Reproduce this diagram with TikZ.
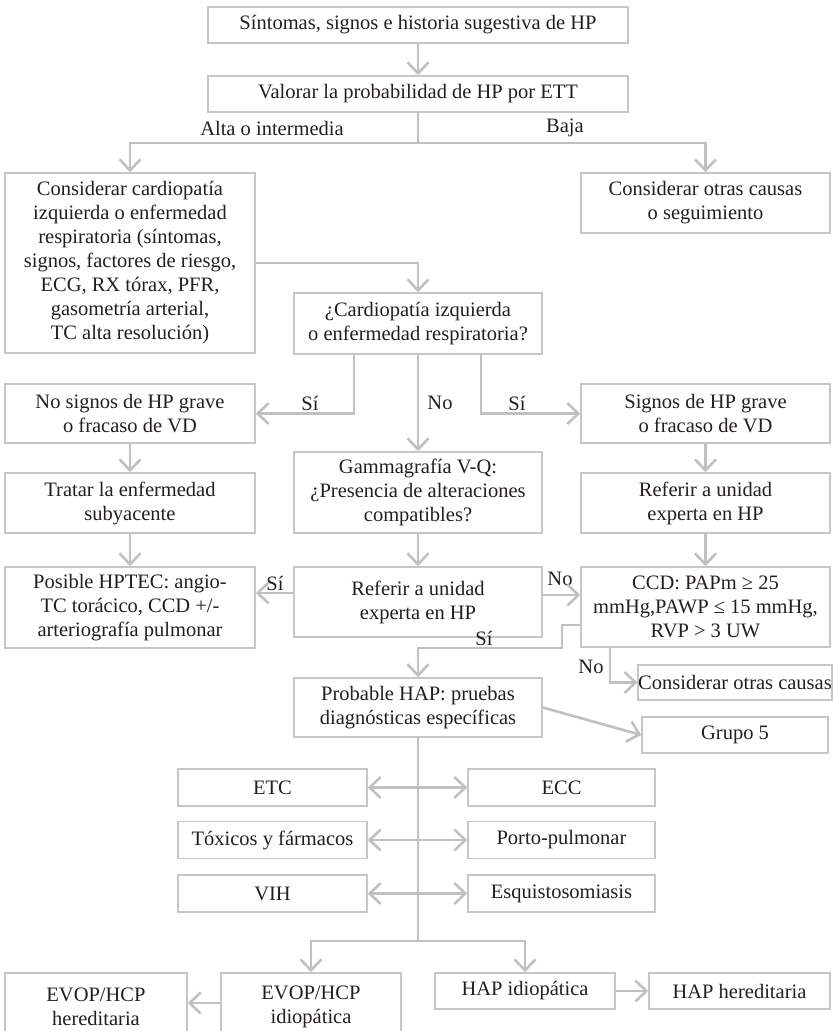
\documentclass[tikz,border=0pt]{standalone}
\usepackage{fontspec}
\setmainfont{Liberation Serif}
\usetikzlibrary{arrows.meta,calc}
\definecolor{boxgray}{RGB}{198,198,198}
\definecolor{linegray}{RGB}{192,192,192}
\definecolor{inkgray}{RGB}{35,31,32}

\begin{document}
\begin{tikzpicture}[x=1pt, y=-1pt,
  every node/.style={text=inkgray, font=\fontsize{20.5}{24}\selectfont},
  box/.style={draw=boxgray, line width=1.6pt, align=center, inner sep=0pt},
  tag/.style={inner sep=0pt},
  plain/.style={draw=linegray, line width=2.6pt},
  link/.style={plain, -{Straight Barb[length=11pt,width=21pt]}},
  dlink/.style={plain, {Straight Barb[length=11pt,width=21pt]}-{Straight Barb[length=11pt,width=21pt]}}
]
% Page frame
\useasboundingbox (0,0) rectangle (834,1031);
\clip (0,0) rectangle (834,1031);

% First steps
\node[box, minimum width=420pt, minimum height=36pt] (sintomas) at (418,25) {Síntomas, signos e historia sugestiva de HP};
\node[box, minimum width=420pt, minimum height=36pt] (valorar) at (418,94) {Valorar la probabilidad de HP por ETT};
\node[tag] (alta) at (272,128) {Alta o intermedia};
\node[tag] (baja) at (565,128) {Baja};

\node[box, minimum width=250pt, minimum height=180pt] (cardio) at (130,263) {Considerar cardiopatía\\izquierda o enfermedad\\respiratoria (síntomas,\\signos, factores de riesgo,\\ECG, RX tórax, PFR,\\gasometría arterial,\\TC alta resolución)};
\node[box, minimum width=249pt, minimum height=60pt] (otras) at (705.5,203) {Considerar otras causas\\o seguimiento};
\node[box, minimum width=248pt, minimum height=61pt] (pregunta) at (418,323.5) {¿Cardiopatía izquierda\\o enfermedad respiratoria?};

% Three columns
\node[box, minimum width=250pt, minimum height=59pt] (nosignos) at (130,413.5) {No signos de HP grave\\o fracaso de VD};
\node[box, minimum width=249pt, minimum height=59pt] (signos) at (705.5,413.5) {Signos de HP grave\\o fracaso de VD};
\node[box, minimum width=250pt, minimum height=60pt] (tratar) at (130,503) {Tratar la enfermedad\\subyacente};
\node[box, minimum width=248pt, minimum height=81pt] (gamma) at (418,492.5) {Gammagrafía V-Q:\\¿Presencia de alteraciones\\compatibles?};
\node[box, minimum width=249pt, minimum height=60pt] (refder) at (705.5,503) {Referir a unidad\\experta en HP};
\node[box, minimum width=250pt, minimum height=81pt] (hptec) at (130,607.5) {Posible HPTEC: angio-\\TC torácico, CCD +/-\\arteriografía pulmonar};
\node[box, minimum width=248pt, minimum height=70pt] (refmid) at (418,602) {Referir a unidad\\experta en HP};
\node[box, minimum width=249pt, minimum height=80pt] (ccd) at (705.5,607) {CCD: PAPm ≥ 25\\mmHg,PAWP ≤ 15 mmHg,\\RVP > 3 UW};
\node[tag] (si1) at (310,403) {Sí};
\node[tag] (no1) at (440,403) {No};
\node[tag] (si2) at (517,403) {Sí};
\node[tag] (si3) at (275,583) {Sí};
\node[tag] (no2) at (560,579) {No};
\node[tag] (si4) at (484,638) {Sí};
\node[tag] (no3) at (591,667) {No};

% Lower part
\node[box, minimum width=186pt, minimum height=35pt] (otras2) at (735,682.5) {Considerar otras causas};
\node[box, minimum width=248pt, minimum height=59pt] (prob) at (418,707.5) {Probable HAP: pruebas\\diagnósticas específicas};
\node[box, minimum width=186pt, minimum height=36pt] (grupo) at (735,735) {Grupo 5};
\foreach \y/\ln/\lt/\rn/\rt in {787.5/etc/ETC/ecc/ECC, 840/toxicos/Tóxicos y fármacos/porto/Porto-pulmonar, 893.5/vih/VIH/esquisto/Esquistosomiasis} {
  \node[box, minimum width=189pt, minimum height=37pt] (\ln) at (272.5,\y) {\lt};
  \node[box, minimum width=187pt, minimum height=37pt] (\rn) at (561.5,\y) {\rt};
}
\node[box, minimum width=182pt, minimum height=68pt] (evoph) at (96,1007) {EVOP/HCP\\hereditaria};
\node[box, minimum width=180pt, minimum height=68pt] (evopi) at (311,1007) {EVOP/HCP\\idiopática};
\node[box, minimum width=180pt, minimum height=36pt] (hapi) at (525,991) {HAP idiopática};
\node[box, minimum width=181pt, minimum height=36pt] (haph) at (739.5,991) {HAP hereditaria};

% Connectors
\coordinate (fork1) at (418,143);
\coordinate (sirow) at ([yshift=9pt]refmid.west);
\coordinate (norow) at ([yshift=7pt]refmid.east);
\coordinate (ccdbend) at (562,648);
\coordinate (fork2) at (418,941);
\coordinate (evoprow) at ([yshift=4pt]evopi.west);
\draw[link] (sintomas) -- (valorar);
\draw[plain] (valorar.south) -- (fork1);
\draw[link] (fork1) -| (cardio.north);
\draw[link] (fork1) -| (otras.north);
\draw[link] (cardio.east) -| (pregunta.north);
\draw[link] ([xshift=-64pt]pregunta.south) |- (nosignos.east);
\draw[link] (pregunta.south) -- (gamma.north);
\draw[link] ([xshift=63pt]pregunta.south) |- (signos.west);
\draw[link] (nosignos) -- (tratar);
\draw[link] (signos) -- (refder);
\draw[link] (tratar) -- (hptec);
\draw[link] (gamma) -- (refmid);
\draw[link] (refder) -- (ccd);
\draw[link] (sirow) -- (sirow -| hptec.east);
\draw[link] (norow) -- (norow -| ccd.west);
\draw[link] ([yshift=-18pt]ccd.west) -| (ccdbend) -| (prob.north);
\draw[link] ([xshift=-95.5pt]ccd.south) |- (otras2.west);
\draw[link] (prob.east) -- (grupo.west);
\draw[plain] (prob.south) -- (fork2);
\foreach \l/\r in {etc/ecc, toxicos/porto, vih/esquisto}
  \draw[dlink] (\l.east) -- (\r.west);
\draw[link] (fork2) -| (evopi.north);
\draw[link] (fork2) -| (hapi.north);
\draw[link] (evoprow) -- (evoprow -| evoph.east);
\draw[link] (hapi.east) -- (haph.west);
\end{tikzpicture}
\end{document}
